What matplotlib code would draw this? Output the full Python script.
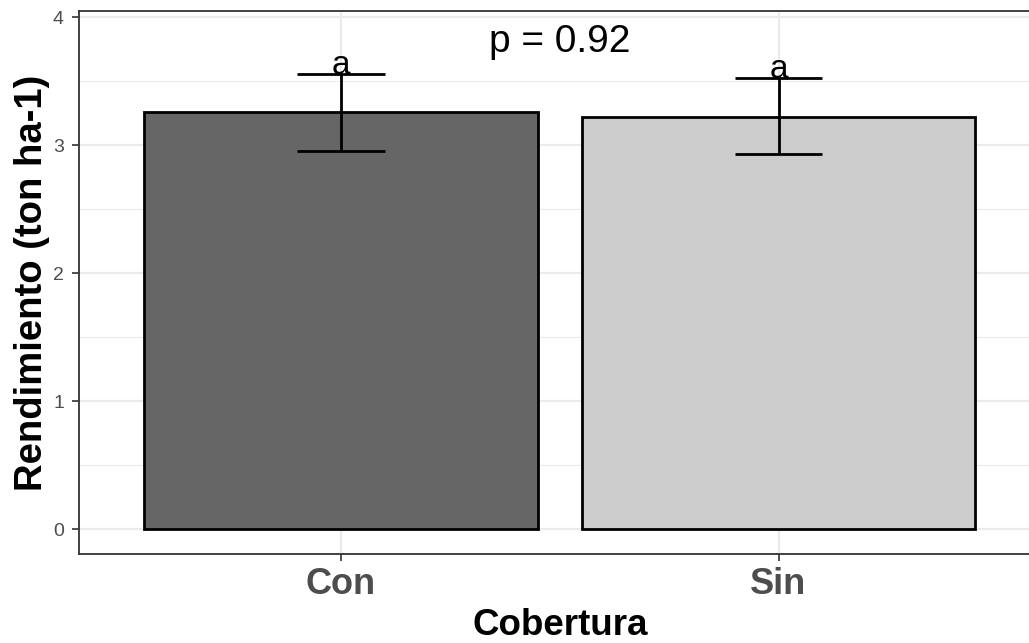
import matplotlib
matplotlib.use("Agg")
import matplotlib.pyplot as plt
from matplotlib.ticker import MultipleLocator

categories = ["Con", "Sin"]
means = [3.258, 3.221]
err_low = [2.955, 2.930]
err_high = [3.557, 3.529]
letters = ["a", "a"]
p_label = "p = 0.92"
fills = ["#666666", "#CCCCCC"]

plt.rcParams['font.family'] = ['Liberation Sans', 'DejaVu Sans']

fig = plt.figure(figsize=(10.29, 6.43), dpi=100)
ax = fig.add_axes([78.5/1029, (643-554)/643, (1041-78.5)/1029, (554-11)/643])

xs = [1, 2]
ax.bar(xs, means, width=0.9, color=fills, edgecolor="black", linewidth=2, zorder=3)
for x, lo, hi in zip(xs, err_low, err_high):
    ax.plot([x, x], [lo, hi], color="black", lw=2, zorder=4, solid_capstyle="butt")
    ax.plot([x-0.1, x+0.1], [lo, lo], color="black", lw=2, zorder=4, solid_capstyle="butt")
    ax.plot([x-0.1, x+0.1], [hi, hi], color="black", lw=2, zorder=4, solid_capstyle="butt")
for x, hi, t in zip(xs, err_high, letters):
    ax.text(x, hi, t, ha="center", va="baseline", fontsize=24, color="black", zorder=5)
ax.text(1.5, 3.73, p_label, ha="center", va="baseline", fontsize=28, color="black", zorder=5)

ax.set_xlim(0.4, 2.6)
ax.set_ylim(-0.193, 4.05)
ax.set_xticks(xs)
ax.set_xticklabels(categories)
ax.yaxis.set_major_locator(MultipleLocator(1))
ax.yaxis.set_minor_locator(MultipleLocator(0.5))

ax.grid(which="major", color="#EBEBEB", lw=1.6, zorder=0)
ax.grid(which="minor", axis="y", color="#EBEBEB", lw=0.8, zorder=0)
ax.set_axisbelow(True)

for s in ax.spines.values():
    s.set_color("#333333")
    s.set_linewidth(1.3)

ax.tick_params(axis="y", which="major", length=5, width=1.2, color="#333333",
               labelsize=14, labelcolor="#4D4D4D", pad=5.5)
ax.tick_params(axis="x", which="major", length=5, width=1.2, color="#333333",
               labelsize=26, labelcolor="#4D4D4D", pad=4)
ax.tick_params(which="minor", length=0)
for lab in ax.get_xticklabels():
    lab.set_fontweight("bold")

ax.set_xlabel("Cobertura", fontsize=26.5, fontweight="bold", color="black", labelpad=5)
ax.set_ylabel("Rendimiento (ton ha-1)", fontsize=27.5, fontweight="bold", color="black", labelpad=2)

fig.savefig("out.png", dpi=100)
